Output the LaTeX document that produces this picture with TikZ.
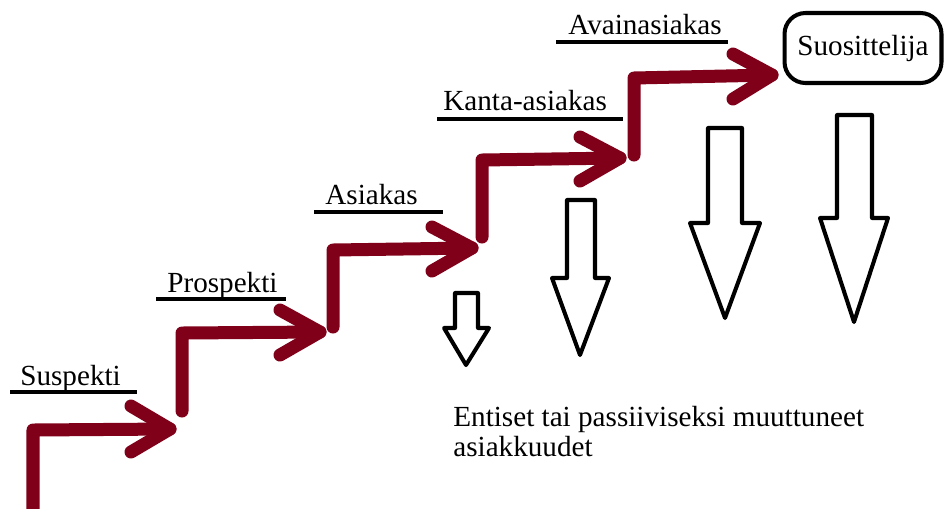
\documentclass[tikz,border=0pt]{standalone}
\usepackage{fontspec}
\setmainfont{Liberation Serif}
\definecolor{stepred}{RGB}{128,0,26}
\begin{document}
\begin{tikzpicture}[x=0.02cm,y=-0.02cm,
  stepline/.style={draw=stepred,line width=7.4pt,line cap=round,line join=round},
  uline/.style={draw=black,line width=2.8pt},
  lbl/.style={anchor=base west,inner sep=0pt,font=\fontsize{16.6}{17}\selectfont},
  blockarrow/.style={draw=black,line width=2.3pt,line join=round,fill=white},
  endbox/.style={draw=black,line width=2.3pt,rounded corners=0.42cm,minimum width=3.14cm,minimum height=1.4cm,inner sep=0pt,font=\fontsize{16.6}{17}\selectfont}]
\useasboundingbox (0,0) rectangle (945,508);
% step coordinates
\coordinate (s1b) at (33,530); \coordinate (s1c) at (33,430); \coordinate (s1t) at (170,429);
\coordinate (s1u) at (131,406); \coordinate (s1l) at (131,452);
\coordinate (s2b) at (182,411); \coordinate (s2c) at (182,333); \coordinate (s2t) at (320,332);
\coordinate (s2u) at (280,310); \coordinate (s2l) at (280,355);
\coordinate (s3b) at (333,327); \coordinate (s3c) at (333,250); \coordinate (s3t) at (472,248);
\coordinate (s3u) at (432,227); \coordinate (s3l) at (432,271);
\coordinate (s4b) at (482,237); \coordinate (s4c) at (482,160); \coordinate (s4t) at (620,158);
\coordinate (s4u) at (580,137); \coordinate (s4l) at (580,181);
\coordinate (s5b) at (634,155); \coordinate (s5c) at (634,78); \coordinate (s5t) at (772,75);
\coordinate (s5u) at (733,54); \coordinate (s5l) at (733,99);
\foreach \i in {1,...,5}{
  \draw[stepline] (s\i b) -- (s\i c) -- (s\i t);
  \draw[stepline] (s\i u) -- (s\i t) -- (s\i l);
}
% labels with underlines
\node[lbl] (suspekti) at (20,385) {Suspekti};
\draw[uline] (10,392) -- (137,392);
\node[lbl] (prospekti) at (167,292) {Prospekti};
\draw[uline] (156,299) -- (286,299);
\node[lbl] (asiakas) at (325,204) {Asiakas};
\draw[uline] (314,212) -- (443,212);
\node[lbl] (kanta) at (443,110) {Kanta-asiakas};
\draw[uline] (437,119) -- (623,119);
\node[lbl] (avain) at (568,34) {Avainasiakas};
\draw[uline] (556,42) -- (728,42);
% end box
\node[endbox] (suos) at (863,48) {Suosittelija};
% hollow down arrows
\draw[blockarrow] (455,293) -- (478,293) -- (478,328) -- (489,328) -- (466,365) -- (444,328) -- (455,328) -- cycle;
\draw[blockarrow] (567,200) -- (595,200) -- (595,278) -- (609,278) -- (580,355) -- (552,278) -- (567,278) -- cycle;
\draw[blockarrow] (708,128) -- (742,128) -- (742,223) -- (760,223) -- (725,318) -- (690,223) -- (708,223) -- cycle;
\draw[blockarrow] (837,115) -- (872,115) -- (872,218) -- (888,218) -- (854,322) -- (820,218) -- (837,218) -- cycle;
% caption
\node[lbl,align=left] (entiset) at (453,456) {Entiset tai passiiviseksi muuttuneet\\asiakkuudet};
\end{tikzpicture}
\end{document}
